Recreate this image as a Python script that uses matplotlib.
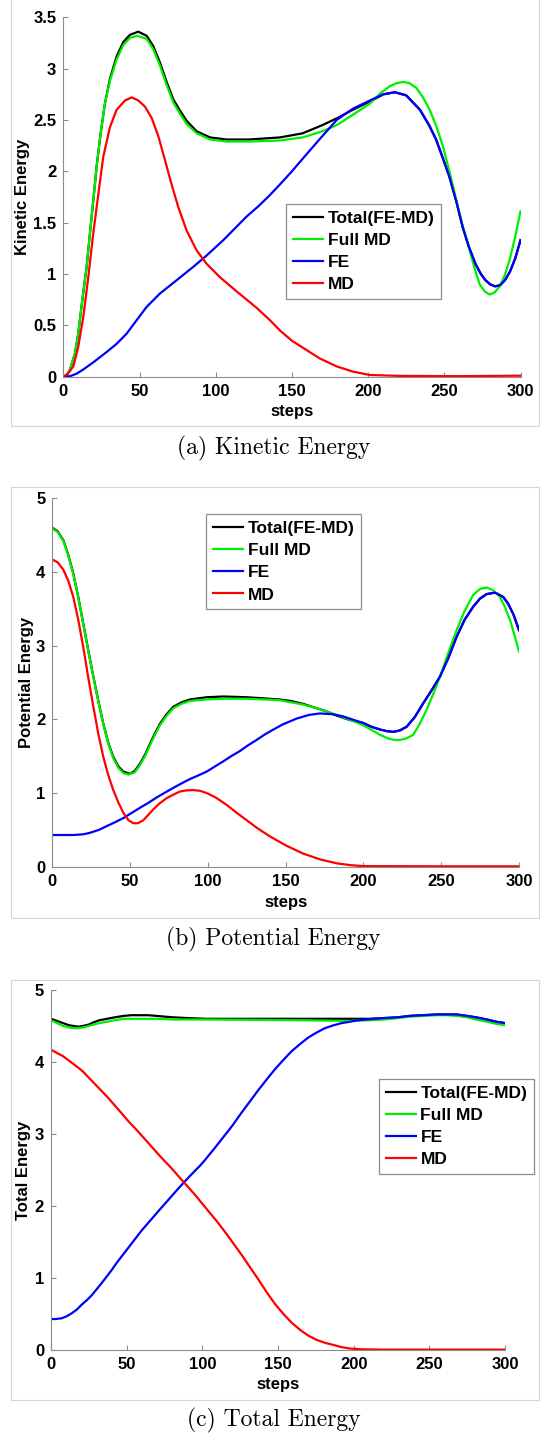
import matplotlib
matplotlib.use("Agg")
import matplotlib.pyplot as plt
from matplotlib.patches import Rectangle

plt.rcParams["font.family"] = ["Liberation Sans", "DejaVu Sans"]
plt.rcParams["font.weight"] = "bold"

# ---- (a) kinetic energy ----
ke_total_x = [0, 2, 4.4, 7.7, 9.8, 12.5, 15.3, 17.5, 19.7, 21.9, 24.5, 27.3, 30.6, 35, 39.4, 43.8,
              49.2, 54.7, 59, 63.4, 67.8, 72.2, 76.6, 81, 87.5, 96.3, 107, 122, 142, 157, 170,
              180, 190, 197, 205, 210, 217.6, 225, 234, 240, 244.6, 249, 253.3, 258, 262, 266,
              270.4, 274, 277, 280, 283.3, 286.5, 289.8, 293, 296.5, 300]
ke_total_y = [0, 0.01, 0.065, 0.23, 0.42, 0.75, 1.07, 1.4, 1.72, 2.05, 2.37, 2.66, 2.9, 3.12, 3.26,
              3.33, 3.36, 3.32, 3.22, 3.06, 2.87, 2.7, 2.59, 2.49, 2.39, 2.33, 2.31, 2.31, 2.33,
              2.37, 2.45, 2.52, 2.6, 2.65, 2.71, 2.75, 2.77, 2.74, 2.6, 2.45, 2.31, 2.13, 1.95,
              1.7, 1.46, 1.27, 1.1, 1.0, 0.94, 0.9, 0.88, 0.89, 0.94, 1.02, 1.15, 1.33]
ke_fullmd_x = [0, 2, 4.4, 7.7, 9.8, 12.5, 15.3, 17.5, 19.7, 21.9, 24.5, 27.3, 30.6, 35, 39.4,
               43.8, 48.5, 54.7, 59, 63.4, 67.8, 72.2, 76.6, 81, 87.5, 96.3, 107, 122, 142, 157,
               170, 179.4, 190, 201.2, 208, 214.3, 219, 223, 227, 231.8, 236, 240.4, 245, 249.2,
               253.5, 257.9, 262, 266.6, 270, 273.2, 276.5, 279.8, 283, 286.3, 289.5, 292.9,
               296.5, 300]
ke_fullmd_y = [0, 0.01, 0.065, 0.23, 0.42, 0.75, 1.07, 1.4, 1.72, 2.05, 2.37, 2.66, 2.88, 3.09,
               3.23, 3.3, 3.32, 3.29, 3.19, 3.03, 2.84, 2.67, 2.56, 2.46, 2.37, 2.31, 2.29, 2.29,
               2.3, 2.33, 2.39, 2.45, 2.55, 2.66, 2.76, 2.83, 2.86, 2.87, 2.86, 2.81, 2.72, 2.6,
               2.43, 2.24, 1.99, 1.72, 1.47, 1.23, 1.05, 0.9, 0.83, 0.8, 0.82, 0.88, 0.98, 1.14,
               1.36, 1.61]
ke_fe_x = [0, 4.4, 8.8, 13.1, 19.7, 28.4, 35, 41.6, 48.1, 54.7, 63.4, 74.4, 85.3, 94, 105, 120.3,
           128, 135, 142, 150, 157.5, 168, 179.4, 190, 201.2, 210, 217.6, 225, 234, 240, 244.6,
           249, 253.3, 258, 262, 266, 270.4, 274, 277, 280, 283.3, 286.5, 289.8, 293, 296.5, 300]
ke_fe_y = [0, 0.005, 0.03, 0.07, 0.14, 0.24, 0.32, 0.42, 0.55, 0.68, 0.81, 0.94, 1.07, 1.18, 1.33,
           1.56, 1.66, 1.76, 1.87, 2.0, 2.13, 2.31, 2.5, 2.61, 2.69, 2.75, 2.77, 2.74, 2.6, 2.45,
           2.31, 2.13, 1.95, 1.7, 1.46, 1.27, 1.1, 1.0, 0.94, 0.9, 0.88, 0.89, 0.94, 1.02, 1.15,
           1.33]
ke_md_x = [0, 3, 6.6, 9.8, 13.1, 16.4, 19.7, 23, 26.2, 30.6, 35, 40.5, 44.9, 49.2, 53.6, 58, 62.4,
           66.7, 71.1, 75.5, 81, 87.5, 94, 102.7, 113.8, 126.9, 135.6, 142.2, 150, 157.5, 168,
           179.4, 190, 201, 220, 260, 300]
ke_md_y = [0, 0.03, 0.1, 0.29, 0.58, 0.97, 1.4, 1.78, 2.14, 2.43, 2.6, 2.69, 2.72, 2.69, 2.63,
           2.52, 2.34, 2.11, 1.87, 1.65, 1.42, 1.23, 1.1, 0.97, 0.83, 0.67, 0.55, 0.45, 0.35,
           0.28, 0.18, 0.1, 0.05, 0.017, 0.008, 0.005, 0.01]

# ---- (b) potential energy ----
pe_total_x = [0, 3.5, 7.1, 10.3, 13.5, 16.7, 19.9, 23.1, 26.4, 29.6, 32.8, 36, 39.2, 42.5, 45.7,
              50, 53, 56.4, 59.6, 62.8, 66, 69.2, 73.5, 77.8, 83, 88.5, 99.2, 110, 125, 146, 153,
              161.3, 170, 176, 182.8, 190, 195, 200, 205, 211, 215, 219.2, 223.5, 227.8, 233,
              238.5, 244, 249.2, 254.5, 259.9, 265, 270.6, 275, 279.2, 284.6, 289.9, 293, 296.5,
              300]
pe_total_y = [4.6, 4.55, 4.43, 4.23, 3.98, 3.66, 3.3, 2.94, 2.58, 2.25, 1.94, 1.68, 1.49, 1.36,
              1.29, 1.26, 1.3, 1.4, 1.52, 1.67, 1.81, 1.94, 2.07, 2.17, 2.23, 2.27, 2.3, 2.31, 2.3,
              2.27, 2.25, 2.21, 2.15, 2.11, 2.05, 2.0, 1.97, 1.95, 1.9, 1.86, 1.84, 1.83, 1.85,
              1.9, 2.03, 2.22, 2.4, 2.58, 2.83, 3.12, 3.35, 3.53, 3.64, 3.7, 3.72, 3.66, 3.57,
              3.42, 3.21]
pe_fullmd_x = [0, 3.5, 7.1, 10.3, 13.5, 16.7, 19.9, 23.1, 26.4, 29.6, 32.8, 36, 39.2, 42.5, 45.7,
               49, 53, 56.4, 59.6, 62.8, 66, 69.2, 73.5, 77.8, 83, 88.5, 99.2, 110, 125, 146,
               161.3, 170, 182.8, 192, 199.9, 205, 210.6, 216, 220, 223.5, 227.5, 232, 236, 240.6,
               245, 249.2, 254.5, 259.9, 265, 270.6, 275, 279.2, 283.5, 287.8, 291, 294.2, 297,
               300]
pe_fullmd_y = [4.59, 4.54, 4.42, 4.22, 3.97, 3.65, 3.29, 2.93, 2.57, 2.24, 1.93, 1.67, 1.47,
               1.34, 1.27, 1.25, 1.28, 1.38, 1.5, 1.65, 1.79, 1.92, 2.05, 2.15, 2.21, 2.25, 2.27,
               2.28, 2.28, 2.26, 2.2, 2.15, 2.06, 1.99, 1.92, 1.86, 1.79, 1.74, 1.72, 1.72, 1.74,
               1.79, 1.93, 2.13, 2.35, 2.58, 2.9, 3.21, 3.47, 3.69, 3.77, 3.79, 3.75, 3.66, 3.52,
               3.35, 3.15, 2.92]
pe_fe_x = [0, 13.5, 20, 24.2, 30, 34.9, 40, 45.7, 51, 56.4, 62, 67.1, 72, 77.8, 83, 88.5, 94,
           99.2, 104.5, 109.9, 115, 120.6, 126, 131.3, 137, 142, 148, 157, 165, 172, 180, 187,
           194, 200, 205, 211, 215, 219.2, 223.5, 227.8, 233, 238.5, 244, 249.2, 254.5, 259.9,
           265, 270.6, 275, 279.2, 284.6, 289.9, 293, 296.5, 300]
pe_fe_y = [0.43, 0.43, 0.44, 0.46, 0.5, 0.55, 0.6, 0.66, 0.73, 0.8, 0.87, 0.94, 1.0, 1.07, 1.13,
           1.19, 1.24, 1.29, 1.36, 1.43, 1.5, 1.57, 1.65, 1.72, 1.8, 1.86, 1.93, 2.01, 2.06,
           2.08, 2.07, 2.04, 1.99, 1.95, 1.9, 1.86, 1.84, 1.83, 1.85, 1.9, 2.03, 2.22, 2.4, 2.58,
           2.83, 3.12, 3.35, 3.53, 3.64, 3.7, 3.72, 3.66, 3.57, 3.42, 3.21]
pe_md_x = [0, 3.5, 7.1, 10.3, 13.5, 16.7, 19.9, 23.1, 26.4, 29.6, 32.8, 36, 39.2, 42.5, 45.7, 49,
           52.1, 55, 58.5, 62, 65, 69, 73.5, 78, 82, 86, 90.6, 95, 99.2, 105, 112, 118, 125, 132,
           140, 150, 161, 172, 183, 192, 200, 250, 300]
pe_md_y = [4.17, 4.13, 4.03, 3.88, 3.66, 3.35, 2.98, 2.57, 2.17, 1.8, 1.49, 1.24, 1.04, 0.87,
           0.73, 0.63, 0.59, 0.59, 0.63, 0.71, 0.78, 0.86, 0.93, 0.98, 1.02, 1.035, 1.04, 1.03,
           1.0, 0.94, 0.84, 0.74, 0.63, 0.52, 0.41, 0.29, 0.18, 0.1, 0.045, 0.02, 0.008, 0.005,
           0.005]

# ---- (c) total energy ----
te_total_x = [0, 4, 8, 12, 15, 18, 21, 25, 28, 32, 37, 42, 48, 53, 59, 64, 70, 75, 81, 90, 103,
              130, 165, 198, 210, 220, 229, 237, 246, 255, 262, 268, 275, 281, 288, 294, 300]
te_total_y = [4.6, 4.57, 4.54, 4.51, 4.5, 4.49, 4.5, 4.52, 4.55, 4.58, 4.6, 4.62, 4.64, 4.65,
              4.65, 4.65, 4.64, 4.63, 4.62, 4.61, 4.6, 4.6, 4.6, 4.6, 4.6, 4.61, 4.62, 4.64, 4.65,
              4.66, 4.66, 4.66, 4.64, 4.62, 4.59, 4.56, 4.54]
te_fullmd_x = [0, 4, 8, 12, 15, 18, 21, 25, 28, 32, 37, 42, 48, 53, 59, 70, 81, 103, 165, 198,
               210, 220, 229, 237, 246, 255, 262, 268, 275, 281, 288, 294, 300]
te_fullmd_y = [4.58, 4.54, 4.5, 4.48, 4.47, 4.47, 4.48, 4.5, 4.52, 4.54, 4.56, 4.58, 4.6, 4.6,
               4.6, 4.6, 4.59, 4.59, 4.58, 4.57, 4.58, 4.59, 4.61, 4.63, 4.64, 4.65, 4.65, 4.64,
               4.62, 4.59, 4.56, 4.53, 4.51]
te_fe_x = [0, 3, 7, 10.5, 13.7, 17, 20.3, 23.6, 26.9, 30, 33.5, 36.8, 40.1, 43.4, 46.7, 50,
           53.3, 56.6, 59.9, 63.2, 66.5, 69.8, 73.1, 76.5, 79.8, 83.6, 87.5, 91.5, 95.2, 98.5,
           101.8, 108, 114, 120, 125, 131, 137, 143, 148, 153.6, 159, 164.6, 170, 175.6, 181,
           186.7, 192, 197.7, 203, 208.7, 220, 229, 237, 246, 255, 262, 268, 275, 281, 288, 294,
           300]
te_fe_y = [0.43, 0.43, 0.44, 0.47, 0.51, 0.56, 0.63, 0.69, 0.76, 0.84, 0.93, 1.02, 1.11, 1.21,
           1.3, 1.39, 1.48, 1.57, 1.66, 1.74, 1.82, 1.9, 1.98, 2.06, 2.14, 2.23, 2.32, 2.41, 2.49,
           2.56, 2.64, 2.8, 2.96, 3.12, 3.27, 3.44, 3.61, 3.77, 3.9, 4.03, 4.15, 4.25, 4.34,
           4.41, 4.47, 4.51, 4.54, 4.56, 4.58, 4.59, 4.61, 4.62, 4.64, 4.65, 4.66, 4.66, 4.66,
           4.64, 4.62, 4.59, 4.56, 4.54]
te_md_x = [0, 8, 15, 21, 26, 31, 37, 42, 47, 51, 56, 62, 67.5, 73, 78.5, 84, 88.6, 95, 102,
           109.5, 115, 120.5, 126, 131.5, 137, 142.6, 148, 153.6, 159, 164.6, 170, 175.6, 181,
           186.7, 192, 197.7, 205, 220, 300]
te_md_y = [4.17, 4.08, 3.97, 3.87, 3.76, 3.65, 3.52, 3.4, 3.28, 3.18, 3.07, 2.93, 2.8, 2.67,
           2.55, 2.42, 2.31, 2.16, 1.98, 1.79, 1.64, 1.48, 1.32, 1.15, 0.98, 0.8, 0.64, 0.5,
           0.38, 0.28, 0.2, 0.14, 0.1, 0.07, 0.04, 0.02, 0.01, 0.005, 0.005]

labels = ["Total(FE-MD)", "Full MD", "FE", "MD"]
colors = ["#000000", "#00ee00", "#0000ff", "#ff0000"]

W, H = 541, 1437
fig = plt.figure(figsize=(W / 100, H / 100), dpi=100)


def px_axes(l, r, t, b):
    return [l / W, 1 - b / H, (r - l) / W, (b - t) / H]


panels = [
    dict(rect=px_axes(63.3, 520.5, 17.3, 376.7), ylim=3.5,
         yticks=[0, 0.5, 1, 1.5, 2, 2.5, 3, 3.5], yticklabels=["0", "0.5", "1", "1.5", "2", "2.5", "3", "3.5"],
         ylabel="Kinetic Energy", ylx=-0.072, leg=(0.487, 0.481),
         series=[(ke_total_x, ke_total_y), (ke_fullmd_x, ke_fullmd_y), (ke_fe_x, ke_fe_y), (ke_md_x, ke_md_y)],
         box=(11, 539, -2, 426), cap="(a) Kinetic Energy", capy=448),
    dict(rect=px_axes(52.3, 519, 498.3, 866.7), ylim=5,
         yticks=[0, 1, 2, 3, 4, 5], yticklabels=["0", "1", "2", "3", "4", "5"],
         ylabel="Potential Energy", ylx=-0.040, leg=(0.329, 0.957),
         series=[(pe_total_x, pe_total_y), (pe_fullmd_x, pe_fullmd_y), (pe_fe_x, pe_fe_y), (pe_md_x, pe_md_y)],
         box=(11, 539, 487, 918), cap="(b) Potential Energy", capy=939),
    dict(rect=px_axes(51, 505, 990, 1350), ylim=5,
         yticks=[0, 1, 2, 3, 4, 5], yticklabels=["0", "1", "2", "3", "4", "5"],
         ylabel="Total Energy", ylx=-0.045, leg=(0.722, 0.753),
         series=[(te_total_x, te_total_y), (te_fullmd_x, te_fullmd_y), (te_fe_x, te_fe_y), (te_md_x, te_md_y)],
         box=(11, 539, 980, 1400), cap="(c) Total Energy", capy=1420),
]

for p in panels:
    bx0, bx1, by0, by1 = p["box"]
    fig.add_artist(Rectangle((bx0 / W, 1 - by1 / H), (bx1 - bx0) / W, (by1 - by0) / H,
                             transform=fig.transFigure, fill=False, ec="#d6d6d6", lw=0.8))
    ax = fig.add_axes(p["rect"])
    for (x, y), lab, c in zip(p["series"], labels, colors):
        ax.plot(x, y, color=c, lw=1.6, label=lab, solid_joinstyle="round")
    ax.set_xlim(0, 300)
    ax.set_ylim(0, p["ylim"])
    ax.set_xticks([0, 50, 100, 150, 200, 250, 300])
    ax.set_yticks(p["yticks"])
    ax.set_yticklabels(p["yticklabels"])
    for s in ["top", "right"]:
        ax.spines[s].set_visible(False)
    for s in ["left", "bottom"]:
        ax.spines[s].set_color("#8c8c8c")
        ax.spines[s].set_linewidth(0.8)
    ax.tick_params(direction="in", length=3.5, width=0.8, color="#8c8c8c",
                   labelsize=12, pad=5)
    for t in ax.get_xticklabels() + ax.get_yticklabels():
        t.set_fontweight("bold")
    ax.set_xlabel("steps", fontsize=12, fontweight="bold")
    ax.xaxis.set_label_coords(0.5, -0.076)
    ax.set_ylabel(p["ylabel"], fontsize=12, fontweight="bold")
    ax.yaxis.set_label_coords(p["ylx"], 0.5)
    leg = ax.legend(loc="upper left", bbox_to_anchor=p["leg"], frameon=True, fancybox=False,
                    edgecolor="#8c8c8c", framealpha=1, prop=dict(size=12.5, weight="bold"),
                    handlelength=1.75, handletextpad=0.25, labelspacing=0.4, borderpad=0.4,
                    borderaxespad=0)
    leg.get_frame().set_linewidth(0.9)
    leg.set_clip_on(False)
    fig.text(273.5 / W, 1 - p["capy"] / H, p["cap"], ha="center", va="center",
             family="cmr10", fontsize=17, fontweight="normal")

fig.savefig("out.png", dpi=100)
